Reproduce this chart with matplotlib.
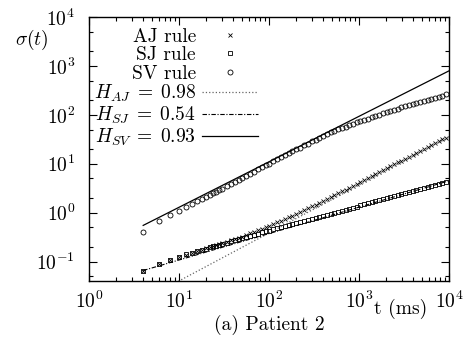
import numpy as np
import matplotlib
matplotlib.use("Agg")
import matplotlib.pyplot as plt
from matplotlib.ticker import LogLocator, NullFormatter

plt.rcParams['font.family'] = 'serif'
plt.rcParams['font.serif'] = ['cmr10']
plt.rcParams['mathtext.fontset'] = 'cm'
plt.rcParams['axes.formatter.use_mathtext'] = True

# time lags (ms)
t = [4, 6, 8, 10, 12, 14, 16, 18, 20, 22, 24, 26, 28, 30, 34, 38, 42, 46, 50,
     56, 62, 68, 76, 84, 92, 100, 112, 124, 136, 150, 166, 182, 200, 220, 244,
     270, 300, 330, 364, 400, 440, 484, 532, 586, 644, 708, 780, 858, 944,
     1038, 1142, 1256, 1382, 1520, 1672, 1840, 2024, 2226, 2448, 2694, 2962,
     3258, 3584, 3944, 4338, 4772, 5248, 5774, 6350, 6986, 7684, 8452, 9298]

sigma_aj = [0.063, 0.088, 0.108, 0.124, 0.138, 0.151, 0.163, 0.175, 0.186,
            0.196, 0.206, 0.216, 0.226, 0.236, 0.254, 0.272, 0.29, 0.307,
            0.324, 0.35, 0.376, 0.402, 0.436, 0.47, 0.503, 0.536, 0.586,
            0.635, 0.684, 0.74, 0.805, 0.87, 0.94, 1.02, 1.12, 1.22, 1.34,
            1.46, 1.6, 1.74, 1.9, 2.08, 2.27, 2.48, 2.71, 2.96, 3.25, 3.55,
            3.89, 4.25, 4.66, 5.1, 5.58, 6.12, 6.7, 7.35, 8.05, 8.82, 9.66,
            10.6, 11.6, 12.7, 13.9, 15.3, 16.7, 18.3, 20.0, 21.9, 24.0, 26.2,
            28.7, 31.3, 34.2]

sigma_sj = [0.063, 0.09, 0.11, 0.125, 0.14, 0.152, 0.163, 0.174, 0.184, 0.194,
            0.203, 0.212, 0.221, 0.229, 0.245, 0.26, 0.274, 0.288, 0.30,
            0.318, 0.335, 0.352, 0.373, 0.393, 0.412, 0.43, 0.456, 0.48,
            0.503, 0.53, 0.557, 0.584, 0.613, 0.643, 0.678, 0.714, 0.753,
            0.79, 0.83, 0.87, 0.912, 0.956, 1.0, 1.05, 1.1, 1.15, 1.21, 1.27,
            1.33, 1.4, 1.47, 1.54, 1.62, 1.7, 1.79, 1.88, 1.97, 2.07, 2.17,
            2.28, 2.39, 2.51, 2.63, 2.76, 2.9, 3.04, 3.19, 3.35, 3.51, 3.68,
            3.86, 4.05, 4.25]

sigma_sv = [0.41, 0.66, 0.88, 1.1, 1.3, 1.5, 1.7, 1.9, 2.1, 2.3, 2.5, 2.7, 2.9,
            3.1, 3.5, 3.9, 4.3, 4.7, 5.1, 5.7, 6.3, 6.9, 7.7, 8.5, 9.3, 10.1,
            11.3, 12.4, 13.5, 14.9, 16.4, 17.9, 19.6, 21.4, 23.6, 25.9, 28.6,
            31.2, 34.0, 37.0, 40.2, 43.5, 47.0, 50.5, 54.0, 57.5, 61.5, 65.5,
            70, 74, 79, 84, 89, 95, 101, 107, 113, 120, 127, 134, 142, 150,
            158, 166, 175, 184, 194, 204, 214, 224, 236, 248, 262]

# fitted power laws sigma = c * t^H
H_aj, c_aj = 0.98, 0.0042
H_sj, c_sj = 0.54, 0.031
H_sv, c_sv = 0.93, 0.151

fig = plt.figure(figsize=(4.66, 3.41), dpi=100)
ax = fig.add_axes([89/466, 1 - 281/341, 360/466, 264/341])

tf = np.array([4, 10000])
fs = 14

ax.plot(t, sigma_aj, 'x', color='black', ms=3.3, mew=0.6, label='AJ rule')
ax.plot(t, sigma_sj, 's', mfc='none', color='black', ms=3.3, mew=0.6, label='SJ rule')
ax.plot(t, sigma_sv, 'o', mfc='none', color='black', ms=3.6, mew=0.6, label='SV rule')
ax.plot(tf, c_aj * tf ** H_aj, ':', color='#666666', lw=0.9,
        label=r'$H_{AJ}\;=\;0.98$')
ax.plot(tf, c_sj * tf ** H_sj, '-.', color='black', lw=0.8,
        dashes=(4, 1.5, 1, 1.5), label=r'$H_{SJ}\;=\;0.54$')
ax.plot(tf, c_sv * tf ** H_sv, '-', color='black', lw=0.9,
        label=r'$H_{SV}\;=\;0.93$')

ax.set_xscale('log')
ax.set_yscale('log')
ax.set_xlim(1, 1e4)
ax.set_ylim(0.04, 1e4)

ax.xaxis.set_minor_locator(LogLocator(base=10, subs=np.arange(2, 10)))
ax.yaxis.set_minor_locator(LogLocator(base=10, subs=(2, 5)))
ax.xaxis.set_minor_formatter(NullFormatter())
ax.yaxis.set_minor_formatter(NullFormatter())
ax.tick_params(which='both', direction='in', top=True, right=True,
               labelsize=fs, width=0.8)
ax.tick_params(which='major', length=6)
ax.tick_params(which='minor', length=3)
ax.tick_params(axis='y', pad=10)
ax.tick_params(axis='x', pad=7)
for s in ax.spines.values():
    s.set_linewidth(1.0)

leg = ax.legend(loc='upper right', bbox_to_anchor=((258 - 89) / 360, 1 - (28 - 17) / 264),
                markerfirst=False, frameon=False, fontsize=fs, numpoints=1,
                handlelength=2.9, handletextpad=0.3, labelspacing=0.02,
                borderpad=0, borderaxespad=0)

fig.text(15/466, 1 - 40/341, r'$\sigma(t)$', fontsize=fs, ha='left', va='center')
fig.text(401/466, 1 - 309/341, 't (ms)', fontsize=fs, ha='center', va='center')
fig.text(269/466, 1 - 325/341, '(a) Patient 2', fontsize=fs, ha='center', va='center')

fig.savefig('out.png', dpi=100)
